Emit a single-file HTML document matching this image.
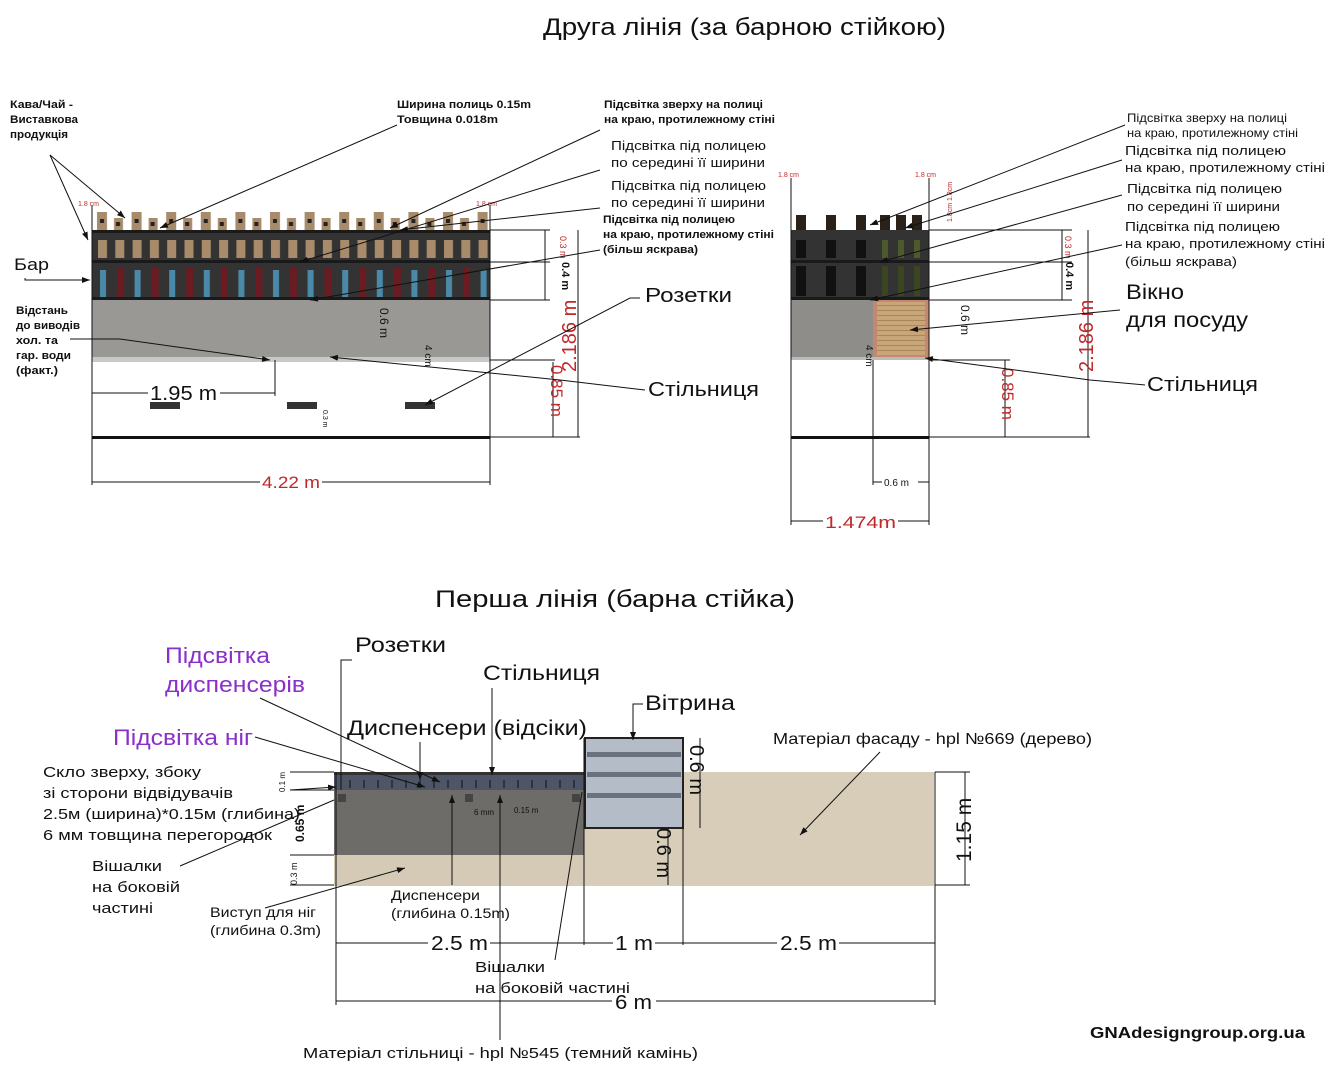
<!DOCTYPE html>
<html><head><meta charset="utf-8"><style>
html,body{margin:0;padding:0;background:#fff}
svg{display:block}
text{font-family:"Liberation Sans",sans-serif;fill:#111}
.s{font-size:11px;font-weight:bold}
.r{fill:#c0282a}
.p{fill:#8a2fc9;font-size:22px}
line,path.l{stroke:#111;stroke-width:1;fill:none}
</style></head><body>
<svg width="1338" height="1080" viewBox="0 0 1338 1080" xmlns="http://www.w3.org/2000/svg">
<defs>
<marker id="a" markerWidth="8" markerHeight="6" refX="8" refY="3" orient="auto"><path d="M0,0L8,3L0,6z" fill="#111"/></marker>
<pattern id="tp" x="95" y="212" width="34.6" height="18" patternUnits="userSpaceOnUse">
<rect x="2" y="0" width="10" height="18" fill="#a88b6a"/><rect x="19" y="6" width="9" height="12" fill="#a88b6a"/><rect x="5" y="7" width="4" height="4" fill="#222"/><rect x="21" y="10" width="4" height="4" fill="#222"/></pattern>
<pattern id="mid" x="95" y="236" width="17.3" height="24" patternUnits="userSpaceOnUse">
<rect x="3" y="4" width="9" height="18" fill="#a88b6a"/></pattern>
<pattern id="bot" x="95" y="266" width="34.6" height="34" patternUnits="userSpaceOnUse">
<rect x="5" y="4" width="6" height="28" fill="#4a8aa8"/><rect x="22" y="2" width="7" height="30" fill="#6b1c22"/></pattern>
<pattern id="wd" x="0" y="0" width="10" height="5" patternUnits="userSpaceOnUse"><rect width="10" height="5" fill="#c9a57a"/><rect width="10" height="1" fill="#a9855a"/></pattern>
</defs>

<text x="543" y="35" font-size="24" textLength="403" lengthAdjust="spacingAndGlyphs">Друга лінія (за барною стійкою)</text>
<text x="435" y="607" font-size="24" textLength="360" lengthAdjust="spacingAndGlyphs">Перша лінія (барна стійка)</text>

<!-- LEFT DRAWING -->
<rect x="92" y="230" width="398" height="70" fill="#333"/>
<rect x="92" y="212" width="398" height="18" fill="url(#tp)"/>
<rect x="92" y="234" width="398" height="26" fill="url(#mid)"/>
<rect x="92" y="264" width="398" height="35" fill="url(#bot)"/>
<rect x="92" y="230" width="398" height="3" fill="#1a1a1a"/>
<rect x="92" y="260" width="398" height="3" fill="#1a1a1a"/>
<rect x="92" y="297" width="398" height="3" fill="#1a1a1a"/>
<rect x="92" y="300" width="398" height="57" fill="#9a9895"/>
<rect x="92" y="357" width="398" height="5" fill="#c9c9c9"/>
<rect x="92" y="436" width="398" height="3" fill="#111"/>
<rect x="150" y="402" width="30" height="7" fill="#333"/>
<rect x="287" y="402" width="30" height="7" fill="#333"/>
<rect x="405" y="402" width="30" height="7" fill="#333"/>
<line x1="92" y1="205" x2="92" y2="485"/><line x1="490" y1="205" x2="490" y2="485"/>
<line x1="92" y1="482" x2="490" y2="482"/>
<rect x="260" y="472" width="62" height="18" fill="#fff"/>
<text x="262" y="488" font-size="17" class="r" textLength="58" lengthAdjust="spacingAndGlyphs">4.22 m</text>
<line x1="92" y1="393" x2="275" y2="393"/><line x1="275" y1="360" x2="275" y2="396"/>
<rect x="148" y="384" width="72" height="12" fill="#fff"/>
<text x="150" y="400" font-size="20" textLength="67" lengthAdjust="spacingAndGlyphs">1.95 m</text>
<line x1="490" y1="230" x2="550" y2="230"/><line x1="490" y1="262" x2="550" y2="262"/><line x1="490" y1="300" x2="550" y2="300"/>
<line x1="490" y1="437" x2="580" y2="437"/><line x1="490" y1="360" x2="555" y2="360"/>
<line x1="545" y1="230" x2="545" y2="300"/><line x1="578" y1="230" x2="578" y2="437"/><line x1="553" y1="362" x2="553" y2="437"/>
<text transform="translate(560,236) rotate(90)" font-size="9" class="r">0.3 m</text>
<text transform="translate(562,262) rotate(90)" font-size="11" font-weight="bold">0.4 m</text>
<text transform="translate(576,372) rotate(-90)" font-size="20" class="r">2.186 m</text>
<text transform="translate(551,365) rotate(90)" font-size="17" class="r">0.85 m</text>
<text transform="translate(380,308) rotate(90)" font-size="12">0.6 m</text>
<text transform="translate(425,345) rotate(90)" font-size="10">4 cm</text>
<text transform="translate(323,410) rotate(90)" font-size="7">0.3 m</text>
<text x="78" y="206" font-size="7" class="r">1.8 cm</text>
<text x="476" y="206" font-size="7" class="r">1.8 cm</text>
<text x="10" y="108" class="s" textLength="63" lengthAdjust="spacingAndGlyphs">Кава/Чай -</text>
<text x="10" y="123" class="s" textLength="68" lengthAdjust="spacingAndGlyphs">Виставкова</text>
<text x="10" y="138" class="s" textLength="58" lengthAdjust="spacingAndGlyphs">продукція</text>
<path class="l" d="M50,155 L88,240" marker-end="url(#a)"/>
<path class="l" d="M50,155 L125,218" marker-end="url(#a)"/>
<text x="397" y="108" class="s" textLength="134" lengthAdjust="spacingAndGlyphs">Ширина полиць 0.15m</text>
<text x="397" y="123" class="s" textLength="101" lengthAdjust="spacingAndGlyphs">Товщина 0.018m</text>
<path class="l" d="M397,125 L160,228" marker-end="url(#a)"/>
<text x="604" y="108" class="s" textLength="159" lengthAdjust="spacingAndGlyphs">Підсвітка зверху на полиці</text>
<text x="604" y="123" class="s" textLength="171" lengthAdjust="spacingAndGlyphs">на краю, протилежному стіні</text>
<path class="l" d="M600,130 L390,228" marker-end="url(#a)"/>
<text x="611" y="150" font-size="13" textLength="155" lengthAdjust="spacingAndGlyphs">Підсвітка під полицею</text>
<text x="611" y="167" font-size="13" textLength="154" lengthAdjust="spacingAndGlyphs">по середині її ширини</text>
<path class="l" d="M600,170 L300,262" marker-end="url(#a)"/>
<text x="611" y="190" font-size="13" textLength="155" lengthAdjust="spacingAndGlyphs">Підсвітка під полицею</text>
<text x="611" y="207" font-size="13" textLength="154" lengthAdjust="spacingAndGlyphs">по середині її ширини</text>
<path class="l" d="M600,208 L400,230" marker-end="url(#a)"/>
<text x="603" y="223" class="s" textLength="132" lengthAdjust="spacingAndGlyphs">Підсвітка під полицею</text>
<text x="603" y="238" class="s" textLength="171" lengthAdjust="spacingAndGlyphs">на краю, протилежному стіні</text>
<text x="603" y="253" class="s" textLength="95" lengthAdjust="spacingAndGlyphs">(більш яскрава)</text>
<path class="l" d="M600,250 L310,300" marker-end="url(#a)"/>
<text x="14" y="270" font-size="17" textLength="35" lengthAdjust="spacingAndGlyphs">Бар</text>
<path class="l" d="M25,278 L25,280 L90,280" marker-end="url(#a)"/>
<text x="16" y="314" class="s" textLength="52" lengthAdjust="spacingAndGlyphs">Відстань</text>
<text x="16" y="329" class="s" textLength="64" lengthAdjust="spacingAndGlyphs">до виводів</text>
<text x="16" y="344" class="s" textLength="42" lengthAdjust="spacingAndGlyphs">хол. та</text>
<text x="16" y="359" class="s" textLength="55" lengthAdjust="spacingAndGlyphs">гар. води</text>
<text x="16" y="374" class="s" textLength="42" lengthAdjust="spacingAndGlyphs">(факт.)</text>
<path class="l" d="M70,339 L120,339 L270,360" marker-end="url(#a)"/>
<text x="645" y="302" font-size="20" textLength="87" lengthAdjust="spacingAndGlyphs">Розетки</text>
<path class="l" d="M640,298 L630,298 L425,405" marker-end="url(#a)"/>
<text x="648" y="396" font-size="20" textLength="111" lengthAdjust="spacingAndGlyphs">Стільниця</text>
<path class="l" d="M645,390 L560,380 L330,357" marker-end="url(#a)"/>

<!-- RIGHT DRAWING -->
<rect x="791" y="230" width="138" height="70" fill="#333"/>
<rect x="796" y="215" width="10" height="15" fill="#2a2218"/><rect x="826" y="215" width="10" height="15" fill="#2a2218"/><rect x="856" y="215" width="10" height="15" fill="#2a2218"/><rect x="880" y="215" width="10" height="15" fill="#2a2218"/><rect x="896" y="215" width="10" height="15" fill="#2a2218"/><rect x="912" y="215" width="10" height="15" fill="#2a2218"/>
<rect x="796" y="240" width="10" height="18" fill="#111"/><rect x="826" y="240" width="10" height="18" fill="#111"/><rect x="856" y="240" width="10" height="18" fill="#111"/>
<rect x="796" y="266" width="10" height="30" fill="#111"/><rect x="826" y="266" width="10" height="30" fill="#111"/><rect x="856" y="266" width="10" height="30" fill="#111"/>
<rect x="882" y="240" width="6" height="18" fill="#4f5a2a"/><rect x="898" y="240" width="6" height="18" fill="#4f5a2a"/><rect x="914" y="240" width="6" height="18" fill="#4f5a2a"/>
<rect x="882" y="266" width="6" height="30" fill="#3c4522"/><rect x="898" y="266" width="6" height="30" fill="#3c4522"/><rect x="914" y="266" width="6" height="30" fill="#3c4522"/>
<rect x="791" y="260" width="138" height="3" fill="#1a1a1a"/><rect x="791" y="297" width="138" height="3" fill="#1a1a1a"/>
<rect x="791" y="300" width="82" height="57" fill="#8f8d8a"/>
<rect x="873" y="300" width="56" height="57" fill="#c48870"/>
<rect x="877" y="302" width="48" height="53" fill="url(#wd)"/>
<rect x="791" y="357" width="138" height="3" fill="#bbb"/>
<rect x="791" y="436" width="138" height="3" fill="#111"/>
<line x1="791" y1="178" x2="791" y2="525"/><line x1="929" y1="178" x2="929" y2="525"/>
<line x1="873" y1="360" x2="873" y2="485"/>
<line x1="873" y1="482" x2="929" y2="482"/><rect x="882" y="476" width="36" height="12" fill="#fff"/><text x="884" y="486" font-size="10">0.6 m</text>
<line x1="791" y1="521" x2="929" y2="521"/><rect x="823" y="512" width="75" height="18" fill="#fff"/><text x="825" y="528" font-size="17" class="r" textLength="71" lengthAdjust="spacingAndGlyphs">1.474m</text>
<line x1="929" y1="230" x2="1072" y2="230"/><line x1="929" y1="262" x2="1072" y2="262"/><line x1="929" y1="300" x2="1072" y2="300"/>
<line x1="929" y1="437" x2="1090" y2="437"/><line x1="929" y1="360" x2="1010" y2="360"/>
<line x1="1062" y1="230" x2="1062" y2="300"/><line x1="1088" y1="230" x2="1088" y2="437"/><line x1="1005" y1="360" x2="1005" y2="437"/>
<text transform="translate(1065,236) rotate(90)" font-size="9" class="r">0.3 m</text>
<text transform="translate(1066,262) rotate(90)" font-size="11" font-weight="bold">0.4 m</text>
<text transform="translate(1093,372) rotate(-90)" font-size="20" class="r">2.186 m</text>
<text transform="translate(1002,368) rotate(90)" font-size="17" class="r">0.85 m</text>
<text transform="translate(961,305) rotate(90)" font-size="12">0.6 m</text>
<text transform="translate(866,345) rotate(90)" font-size="10">4 cm</text>
<text x="778" y="177" font-size="7" class="r">1.8 cm</text>
<text x="915" y="177" font-size="7" class="r">1.8 cm</text>
<text transform="translate(952,222) rotate(-90)" font-size="7" class="r">1.8cm 1.8cm</text>
<text x="1127" y="122" font-size="12" textLength="160" lengthAdjust="spacingAndGlyphs">Підсвітка зверху на полиці</text>
<text x="1127" y="137" font-size="12" textLength="171" lengthAdjust="spacingAndGlyphs">на краю, протилежному стіні</text>
<path class="l" d="M1125,125 L870,225" marker-end="url(#a)"/>
<text x="1125" y="155" font-size="13" textLength="161" lengthAdjust="spacingAndGlyphs">Підсвітка під полицею</text>
<text x="1125" y="172" font-size="13" textLength="200" lengthAdjust="spacingAndGlyphs">на краю, протилежному стіні</text>
<path class="l" d="M1122,160 L905,228" marker-end="url(#a)"/>
<text x="1127" y="193" font-size="13" textLength="155" lengthAdjust="spacingAndGlyphs">Підсвітка під полицею</text>
<text x="1127" y="211" font-size="13" textLength="153" lengthAdjust="spacingAndGlyphs">по середині її ширини</text>
<path class="l" d="M1122,195 L880,262" marker-end="url(#a)"/>
<text x="1125" y="231" font-size="13" textLength="155" lengthAdjust="spacingAndGlyphs">Підсвітка під полицею</text>
<text x="1125" y="248" font-size="13" textLength="200" lengthAdjust="spacingAndGlyphs">на краю, протилежному стіні</text>
<text x="1125" y="266" font-size="13" textLength="112" lengthAdjust="spacingAndGlyphs">(більш яскрава)</text>
<path class="l" d="M1122,245 L870,300" marker-end="url(#a)"/>
<text x="1126" y="299" font-size="21" textLength="58" lengthAdjust="spacingAndGlyphs">Вікно</text>
<text x="1126" y="327" font-size="21" textLength="122" lengthAdjust="spacingAndGlyphs">для посуду</text>
<path class="l" d="M1120,310 L910,330" marker-end="url(#a)"/>
<text x="1147" y="391" font-size="20" textLength="111" lengthAdjust="spacingAndGlyphs">Стільниця</text>
<path class="l" d="M1145,385 L1090,380 L925,358" marker-end="url(#a)"/>

<!-- BOTTOM DRAWING -->
<rect x="584" y="772" width="350" height="114" fill="#d8cdb9"/>
<rect x="334" y="772" width="250" height="83" fill="#6e6c69"/>
<rect x="334" y="772" width="250" height="18" fill="#4d5566"/>
<rect x="334" y="772" width="250" height="3" fill="#333"/>
<rect x="334" y="855" width="250" height="31" fill="#d5cab6"/>
<rect x="338" y="794" width="8" height="8" fill="#444"/><rect x="465" y="794" width="8" height="8" fill="#444"/><rect x="572" y="794" width="8" height="8" fill="#444"/>
<g stroke="#222" stroke-width="1">
<line x1="350" y1="780" x2="350" y2="788"/><line x1="364" y1="780" x2="364" y2="788"/><line x1="378" y1="780" x2="378" y2="788"/><line x1="392" y1="780" x2="392" y2="788"/><line x1="406" y1="780" x2="406" y2="788"/><line x1="420" y1="780" x2="420" y2="788"/><line x1="434" y1="780" x2="434" y2="788"/><line x1="448" y1="780" x2="448" y2="788"/><line x1="462" y1="780" x2="462" y2="788"/><line x1="476" y1="780" x2="476" y2="788"/><line x1="490" y1="780" x2="490" y2="788"/><line x1="504" y1="780" x2="504" y2="788"/><line x1="518" y1="780" x2="518" y2="788"/><line x1="532" y1="780" x2="532" y2="788"/><line x1="546" y1="780" x2="546" y2="788"/><line x1="560" y1="780" x2="560" y2="788"/><line x1="574" y1="780" x2="574" y2="788"/>
</g>
<rect x="585" y="738" width="98" height="90" fill="#b4bcc8" stroke="#222" stroke-width="2"/>
<rect x="587" y="752" width="94" height="5" fill="#6a7280"/><rect x="587" y="772" width="94" height="5" fill="#6a7280"/><rect x="587" y="793" width="94" height="5" fill="#6a7280"/>
<line x1="336" y1="772" x2="336" y2="1005"/><line x1="584" y1="738" x2="584" y2="945"/>
<line x1="683" y1="828" x2="683" y2="945"/><line x1="935" y1="772" x2="935" y2="1005"/>
<line x1="336" y1="943" x2="935" y2="943"/>
<rect x="428" y="933" width="62" height="20" fill="#fff"/><text x="431" y="950" font-size="20" textLength="57" lengthAdjust="spacingAndGlyphs">2.5 m</text>
<rect x="613" y="933" width="42" height="20" fill="#fff"/><text x="615" y="950" font-size="20" textLength="38" lengthAdjust="spacingAndGlyphs">1 m</text>
<rect x="777" y="933" width="62" height="20" fill="#fff"/><text x="780" y="950" font-size="20" textLength="57" lengthAdjust="spacingAndGlyphs">2.5 m</text>
<line x1="336" y1="1001" x2="935" y2="1001"/>
<rect x="612" y="990" width="44" height="20" fill="#fff"/><text x="615" y="1009" font-size="20" textLength="37" lengthAdjust="spacingAndGlyphs">6 m</text>
<line x1="935" y1="772" x2="970" y2="772"/><line x1="935" y1="885" x2="970" y2="885"/><line x1="965" y1="772" x2="965" y2="885"/>
<text transform="translate(971,862) rotate(-90)" font-size="21">1.15 m</text>
<line x1="700" y1="738" x2="700" y2="828"/><line x1="668" y1="828" x2="668" y2="885"/>
<text transform="translate(690,745) rotate(90)" font-size="20">0.6 m</text>
<text transform="translate(657,828) rotate(90)" font-size="20">0.6 m</text>
<text transform="translate(304,842) rotate(-90)" font-size="12" font-weight="bold">0.65 m</text>
<text transform="translate(297,885) rotate(-90)" font-size="9">0.3 m</text>
<text transform="translate(285,792) rotate(-90)" font-size="8">0.1 m</text>
<line x1="290" y1="772" x2="334" y2="772"/><line x1="290" y1="790" x2="334" y2="790"/><line x1="290" y1="855" x2="334" y2="855"/><line x1="290" y1="885" x2="334" y2="885"/>
<text x="474" y="815" font-size="8">6 mm</text><text x="514" y="813" font-size="8">0.15 m</text>
<text x="355" y="652" font-size="21" textLength="91" lengthAdjust="spacingAndGlyphs">Розетки</text>
<path class="l" d="M352,660 L341,660 L341,790"/>
<text x="483" y="680" font-size="21" textLength="117" lengthAdjust="spacingAndGlyphs">Стільниця</text>
<path class="l" d="M492,688 L492,775" marker-end="url(#a)"/>
<text x="347" y="735" font-size="21" textLength="240" lengthAdjust="spacingAndGlyphs">Диспенсери (відсіки)</text>
<path class="l" d="M420,742 L420,780" marker-end="url(#a)"/>
<text x="645" y="710" font-size="21" textLength="90" lengthAdjust="spacingAndGlyphs">Вітрина</text>
<path class="l" d="M643,704 L633,704 L633,740" marker-end="url(#a)"/>
<text x="165" y="663" class="p" textLength="105" lengthAdjust="spacingAndGlyphs">Підсвітка</text>
<text x="165" y="692" class="p" textLength="140" lengthAdjust="spacingAndGlyphs">диспенсерів</text>
<path class="l" d="M260,698 L440,782" marker-end="url(#a)"/>
<text x="113" y="745" class="p" textLength="140" lengthAdjust="spacingAndGlyphs">Підсвітка ніг</text>
<path class="l" d="M255,737 L425,787" marker-end="url(#a)"/>
<text x="773" y="744" font-size="16" textLength="319" lengthAdjust="spacingAndGlyphs">Матеріал фасаду - hpl №669 (дерево)</text>
<path class="l" d="M880,752 L800,835" marker-end="url(#a)"/>
<text x="43" y="777" font-size="15" textLength="158" lengthAdjust="spacingAndGlyphs">Скло зверху, збоку</text>
<text x="43" y="798" font-size="15" textLength="190" lengthAdjust="spacingAndGlyphs">зі сторони відвідувачів</text>
<text x="43" y="819" font-size="15" textLength="257" lengthAdjust="spacingAndGlyphs">2.5м (ширина)*0.15м (глибина)</text>
<text x="43" y="840" font-size="15" textLength="229" lengthAdjust="spacingAndGlyphs">6 мм товщина перегородок</text>
<path class="l" d="M290,790 L336,787" marker-end="url(#a)"/>
<text x="92" y="871" font-size="15" textLength="70" lengthAdjust="spacingAndGlyphs">Вішалки</text>
<text x="92" y="892" font-size="15" textLength="88" lengthAdjust="spacingAndGlyphs">на боковій</text>
<text x="92" y="913" font-size="15" textLength="61" lengthAdjust="spacingAndGlyphs">частині</text>
<path class="l" d="M180,866 L334,800"/>
<text x="210" y="917" font-size="14" textLength="106" lengthAdjust="spacingAndGlyphs">Виступ для ніг</text>
<text x="210" y="935" font-size="14" textLength="111" lengthAdjust="spacingAndGlyphs">(глибина 0.3m)</text>
<path class="l" d="M265,908 L405,868" marker-end="url(#a)"/>
<text x="391" y="900" font-size="14" textLength="89" lengthAdjust="spacingAndGlyphs">Диспенсери</text>
<text x="391" y="918" font-size="14" textLength="119" lengthAdjust="spacingAndGlyphs">(глибина 0.15m)</text>
<path class="l" d="M452,885 L452,795" marker-end="url(#a)"/>
<text x="475" y="972" font-size="15" textLength="70" lengthAdjust="spacingAndGlyphs">Вішалки</text>
<text x="475" y="993" font-size="15" textLength="155" lengthAdjust="spacingAndGlyphs">на боковій частині</text>
<path class="l" d="M555,960 L582,792"/>
<path class="l" d="M500,1040 L500,795" marker-end="url(#a)"/>
<text x="303" y="1058" font-size="15" textLength="395" lengthAdjust="spacingAndGlyphs">Матеріал стільниці -  hpl №545 (темний камінь)</text>
<text x="1090" y="1038" font-size="16" font-weight="bold" textLength="215" lengthAdjust="spacingAndGlyphs">GNAdesigngroup.org.ua</text>
</svg>
</body></html>
